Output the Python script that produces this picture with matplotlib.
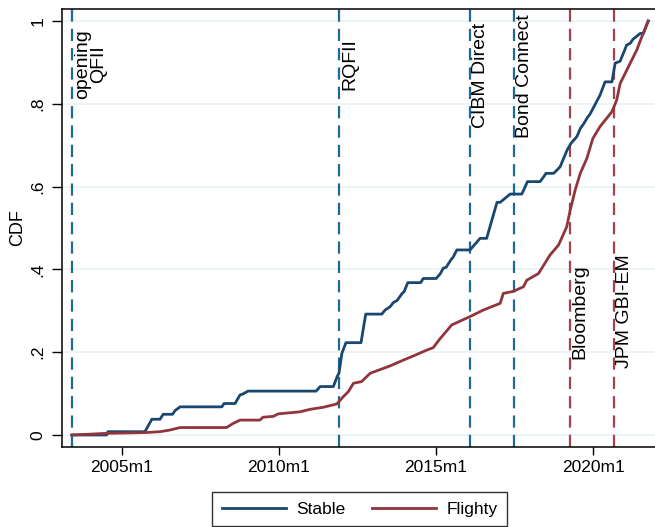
import matplotlib
matplotlib.use("Agg")
import matplotlib.pyplot as plt
import numpy as np

# CDF of investor flows, monthly dates as decimal years
stable_t = [2003.40, 2004.51, 2004.55, 2005.73, 2005.95, 2006.21, 2006.31, 2006.61, 2006.69,
            2006.85, 2008.18, 2008.25, 2008.60, 2008.76, 2008.85, 2009.01, 2011.18, 2011.31,
            2011.73, 2011.85, 2011.91, 2012.00, 2012.13, 2012.61, 2012.76, 2013.27, 2013.38,
            2013.54, 2013.64, 2013.76, 2013.92, 2013.98, 2014.10, 2014.51, 2014.59, 2015.00,
            2015.13, 2015.23, 2015.32, 2015.48, 2015.54, 2015.66, 2016.08, 2016.40, 2016.61,
            2016.94, 2017.04, 2017.20, 2017.36, 2017.73, 2017.91, 2018.31, 2018.41, 2018.50,
            2018.74, 2018.85, 2018.95, 2019.17, 2019.30, 2019.43, 2019.49, 2019.59, 2019.71,
            2019.82, 2019.90, 2020.22, 2020.38, 2020.60, 2020.70, 2020.86, 2021.07, 2021.18,
            2021.27, 2021.50, 2021.60, 2021.75]
stable_cdf = [0.0, 0.0, 0.008, 0.008, 0.038, 0.038, 0.05, 0.05, 0.059,
              0.068, 0.068, 0.076, 0.076, 0.097, 0.099, 0.106, 0.106, 0.117,
              0.117, 0.141, 0.15, 0.197, 0.223, 0.223, 0.292, 0.292, 0.302,
              0.31, 0.32, 0.325, 0.342, 0.346, 0.368, 0.368, 0.378, 0.378,
              0.389, 0.403, 0.405, 0.424, 0.429, 0.447, 0.447, 0.475, 0.475,
              0.562, 0.562, 0.572, 0.582, 0.582, 0.612, 0.612, 0.622, 0.632,
              0.632, 0.64, 0.648, 0.688, 0.705, 0.716, 0.722, 0.74, 0.753,
              0.767, 0.775, 0.821, 0.853, 0.853, 0.898, 0.903, 0.942, 0.946,
              0.956, 0.97, 0.97, 1.0]

flighty_t = [2003.41, 2003.98, 2004.51, 2005.79, 2006.21, 2006.53, 2006.85, 2008.33, 2008.54,
             2008.76, 2009.39, 2009.49, 2009.82, 2009.97, 2010.67, 2010.99, 2011.41, 2011.84,
             2012.05, 2012.21, 2012.37, 2012.63, 2012.90, 2013.11, 2013.54, 2013.96, 2014.28,
             2014.70, 2014.91, 2015.13, 2015.50, 2016.08, 2016.51, 2017.04, 2017.14, 2017.46,
             2017.78, 2017.89, 2018.26, 2018.63, 2018.90, 2019.16, 2019.27, 2019.43, 2019.59,
             2019.80, 2019.99, 2020.22, 2020.60, 2020.75, 2020.86, 2021.18, 2021.39, 2021.55,
             2021.66, 2021.76]
flighty_cdf = [0.0, 0.002, 0.004, 0.006, 0.008, 0.012, 0.018, 0.018, 0.028,
               0.036, 0.036, 0.043, 0.045, 0.051, 0.056, 0.062, 0.067, 0.075,
               0.093, 0.105, 0.125, 0.129, 0.149, 0.155, 0.167, 0.181, 0.191,
               0.205, 0.211, 0.233, 0.266, 0.286, 0.302, 0.318, 0.342, 0.347,
               0.358, 0.374, 0.39, 0.435, 0.459, 0.503, 0.543, 0.592, 0.632,
               0.668, 0.716, 0.745, 0.781, 0.809, 0.849, 0.898, 0.93, 0.962,
               0.982, 1.0]

# policy / index events
event_t = [2003.42, 2011.92, 2016.08, 2017.49, 2019.25, 2020.67]
event_labels = ["opening\nQFII", "RQFII", "CIBM Direct", "Bond Connect", "Bloomberg", "JPM GBI-EM"]
event_kind = ["policy", "policy", "policy", "policy", "index", "index"]
event_label_y = [0.897, 0.897, 0.868, 0.868, 0.299, 0.299]

xtick_years = [2005, 2010, 2015, 2020]
xtick_labels = ["2005m1", "2010m1", "2015m1", "2020m1"]
ytick_vals = [0, 0.2, 0.4, 0.6, 0.8, 1.0]
ytick_labels = ["0", ".2", ".4", ".6", ".8", "1"]

NAVY = "#1a476f"
MAROON = "#90353b"
POLICY_C = "#1f6a95"
INDEX_C = "#a4434a"
GRID_C = "#eaf2f3"

plt.rcParams["font.family"] = ["Liberation Sans", "DejaVu Sans"]

fig = plt.figure(figsize=(6.55, 5.27), dpi=100)
ax = fig.add_axes([62 / 655, 1 - 447 / 527, 1 - 62 / 655, (447 - 9) / 527])

for yv in ytick_vals:
    ax.axhline(yv, color=GRID_C, lw=1.2, zorder=0)

for t, lab, kind, ly in zip(event_t, event_labels, event_kind, event_label_y):
    c = POLICY_C if kind == "policy" else INDEX_C
    ax.axvline(t, color=c, lw=1.6, dashes=(5.5, 3.2), zorder=1)
    ax.text(t + 0.07, ly, lab, rotation=90, ha="left", va="center", fontsize=14,
            color="black", linespacing=0.9, multialignment="center")

ax.plot(stable_t, stable_cdf, color=NAVY, lw=2.0, label="Stable", zorder=3)
ax.plot(flighty_t, flighty_cdf, color=MAROON, lw=2.0, label="Flighty", zorder=3)

ax.set_xlim(2003.09, 2021.97)
ax.set_ylim(-0.029, 1.029)
ax.set_xticks(xtick_years)
ax.set_xticklabels(xtick_labels, fontsize=12.5)
ax.set_yticks(ytick_vals)
ax.set_yticklabels(ytick_labels, fontsize=12.5, rotation=90, va="center")
ax.tick_params(axis="x", length=6, width=1, pad=3)
ax.tick_params(axis="y", length=7, width=1, pad=5)
ax.set_ylabel("CDF", fontsize=13, labelpad=3)

ax.spines["right"].set_visible(False)
for s in ["left", "bottom", "top"]:
    ax.spines[s].set_linewidth(1.1)
    ax.spines[s].set_color("black")

fig.legend(loc="upper center", bbox_to_anchor=(359.5 / 655, 1 - 492 / 527), ncol=2,
           fontsize=12.5, frameon=True, fancybox=False, edgecolor="black",
           handlelength=3.7, handletextpad=0.6, columnspacing=1.5, borderpad=0.55,
           borderaxespad=0)

fig.savefig("out.png", dpi=100)
